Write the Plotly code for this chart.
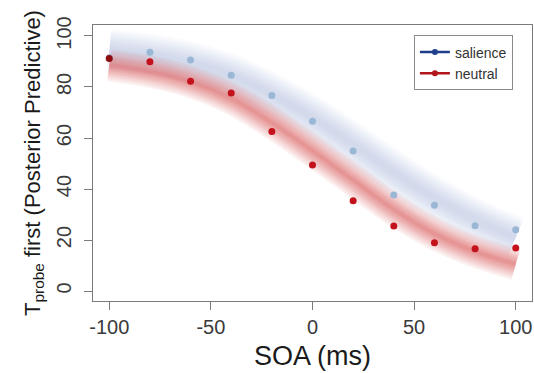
import plotly.graph_objects as go

# ---- data ----
soa = [-100, -80, -60, -40, -20, 0, 20, 40, 60, 80, 100]
salience_obs = [91.5, 93.6, 90.6, 84.6, 76.7, 66.6, 54.9, 37.7, 33.6, 25.6, 24.0]
neutral_obs = [91.2, 89.9, 82.2, 77.6, 62.5, 49.4, 35.4, 25.5, 18.9, 16.6, 16.9]
# posterior predictive curve centres
salience_pred = [94.5, 92.5, 89.5, 84.5, 77.0, 68.0, 57.5, 46.5, 36.5, 28.0, 21.0]
neutral_pred = [88.5, 86.0, 82.0, 75.5, 66.0, 55.0, 43.5, 32.0, 22.5, 15.5, 10.5]

FONT = "Liberation Sans, Arial, Helvetica, sans-serif"
fig = go.Figure()

def band(x, y, rgb, widths, alpha):
    for w in widths:
        fig.add_trace(go.Scatter(
            x=x, y=y, mode="lines", hoverinfo="skip", showlegend=False,
            line=dict(color=f"rgba({rgb},{alpha})", width=w, shape="spline", smoothing=1.0),
        ))

band(soa, salience_pred, "115,160,205", [42, 38, 34, 30, 26, 22, 18, 14, 10, 6], 0.04)
band(soa, neutral_pred, "210,50,60", [32, 28, 24, 20, 17, 14, 11, 8, 5, 3], 0.07)

fig.add_trace(go.Scatter(x=soa, y=salience_obs, mode="markers", showlegend=False,
                         marker=dict(color="#9ab8d5", size=7, line=dict(width=0))))
neutral_colors = ["#8e0c10"] + ["#c3121c"] * (len(soa) - 1)
fig.add_trace(go.Scatter(x=soa, y=neutral_obs, mode="markers", showlegend=False,
                         marker=dict(color=neutral_colors, size=7, line=dict(width=0))))

# legend entries
fig.add_trace(go.Scatter(x=[None], y=[None], mode="lines+markers", name="salience",
                         line=dict(color="#1f3f8c", width=2.5), marker=dict(color="#1f3f8c", size=6)))
fig.add_trace(go.Scatter(x=[None], y=[None], mode="lines+markers", name="neutral",
                         line=dict(color="#b3151d", width=2.5), marker=dict(color="#b3151d", size=6)))

axis_common = dict(showgrid=False, zeroline=False, showline=True, mirror=True,
                   linecolor="#7a7a7a", linewidth=1.3, ticks="outside", ticklen=8,
                   tickcolor="#7a7a7a", tickwidth=1.2,
                   tickfont=dict(family=FONT, size=20, color="#3a3a3a"))

fig.update_layout(
    width=534, height=373,
    margin=dict(l=93, r=2, t=25, b=72),
    plot_bgcolor="white", paper_bgcolor="white",
    font=dict(family=FONT, color="#222"),
    xaxis=dict(range=[-108, 108], tickvals=[-100, -50, 0, 50, 100],
               ticktext=["-100", "-50", "0", "50", "100"],
               title=dict(text="SOA (ms)", font=dict(family=FONT, size=27, color="#1a1a1a"), standoff=8),
               **axis_common),
    yaxis=dict(range=[-3.9, 104.3], tickvals=[0, 20, 40, 60, 80, 100], tickangle=-90,
               ticklabelstandoff=5,
               title=dict(text="T<sub>probe</sub> first (Posterior Predictive)",
                          font=dict(family=FONT, size=22, color="#1a1a1a"), standoff=6),
               **axis_common),
    legend=dict(x=0.731, y=0.962, xanchor="left", yanchor="top",
                bgcolor="white", bordercolor="#8a8a8a", borderwidth=1,
                font=dict(family=FONT, size=14, color="#333"),
                tracegroupgap=0, itemwidth=30),
    showlegend=True,
)

fig.write_html("out.html")
